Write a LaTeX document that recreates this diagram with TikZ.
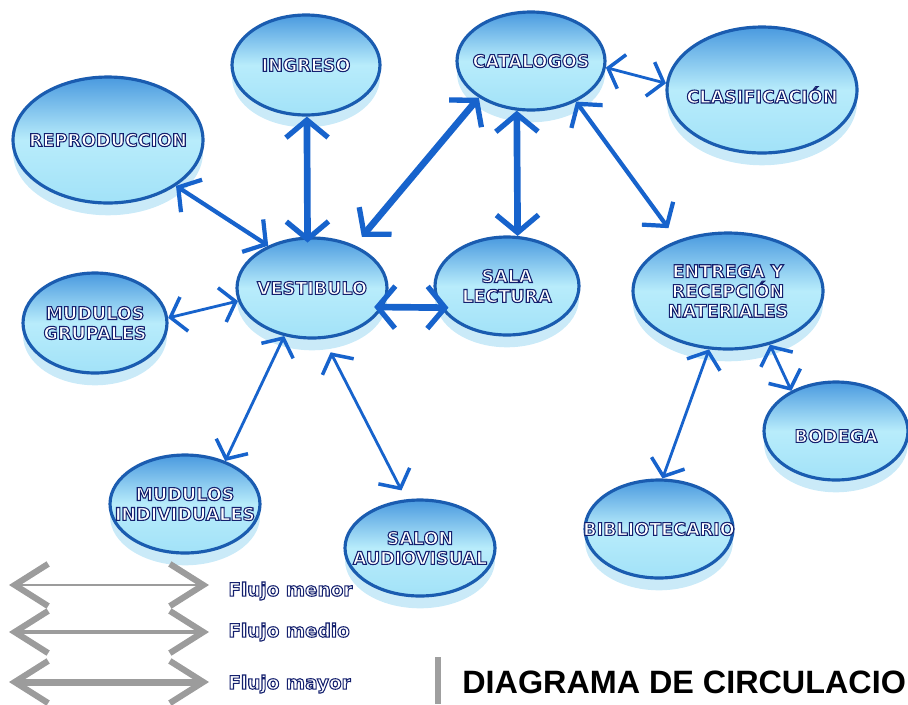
\documentclass[tikz,border=0pt]{standalone}
\usepackage{fontspec}
\setmainfont{DejaVu Sans}
\newfontfamily\titlefont{Liberation Sans}
\usetikzlibrary{arrows.meta,shapes.geometric,shadows}

\definecolor{rim}{HTML}{1A5CB0}
\definecolor{topc}{HTML}{4A9ADF}
\definecolor{midc}{HTML}{B8ECFB}
\definecolor{botc}{HTML}{A2E2F8}
\definecolor{glow}{HTML}{A6DCF4}
\definecolor{arrowc}{HTML}{1763CC}
\definecolor{navy}{HTML}{14206E}
\definecolor{silver}{HTML}{9C9C9C}

% white letters with a navy outline (fill + stroke text rendering)
\newcommand{\olab}[1]{\textcolor{white}{\special{pdf:literal direct 2 Tr 0.6 w 0.078 0.125 0.431 RG}#1\special{pdf:literal direct 0 Tr}}}

\tikzset{
  bubble/.style={ellipse, draw=rim, line width=1.8pt,
    top color=topc, bottom color=botc, middle color=midc,
    inner sep=0pt,
    drop shadow={shadow xshift=0pt, shadow yshift=-7pt, fill=glow, opacity=0.6}},
  lbl/.style={inner sep=0pt, align=center, font=\fontsize{10}{11.3}\selectfont\bfseries},
  menor/.style={draw=arrowc, line width=1.6pt,
    {Straight Barb[length=8pt,width=20pt,line width=2pt]}-{Straight Barb[length=8pt,width=20pt,line width=2pt]}},
  medio/.style={draw=arrowc, line width=2.4pt,
    {Straight Barb[length=9pt,width=22pt,line width=2.4pt]}-{Straight Barb[length=9pt,width=22pt,line width=2.4pt]}},
  mayor/.style={draw=arrowc, line width=3.8pt,
    {Straight Barb[length=10pt,width=24pt,line width=3pt]}-{Straight Barb[length=10pt,width=24pt,line width=3pt]}},
  legarrow/.style={draw=silver,
    {Straight Barb[length=19pt,width=24pt,line width=3.5pt]}-{Straight Barb[length=19pt,width=24pt,line width=3.5pt]}},
  leglabel/.style={anchor=west, inner sep=0pt, font=\fontsize{10.5}{12}\selectfont\bfseries}
}

\begin{document}
\begin{tikzpicture}[x=0.02cm, y=-0.02cm]
\useasboundingbox (0,0) rectangle (908,704);

% bubbles
\node[bubble, minimum width=3.8cm, minimum height=2.52cm,
  label={[lbl]center:\olab{REPRODUCCION}}] (repro) at (108,140) {};
\node[bubble, minimum width=2.96cm, minimum height=2.0cm,
  label={[lbl]center:\olab{INGRESO}}] (ingreso) at (306,65) {};
\node[bubble, minimum width=2.96cm, minimum height=1.96cm,
  label={[lbl]center:\olab{CATALOGOS}}] (cat) at (531,61) {};
\node[bubble, minimum width=3.8cm, minimum height=2.52cm,
  label={[lbl, yshift=-0.1cm]center:\olab{CLASIFICACIÓN}}] (clas) at (762,90) {};
\node[bubble, minimum width=3.0cm, minimum height=2.0cm,
  label={[lbl]center:\olab{VESTIBULO}}] (vest) at (312,288) {};
\node[bubble, minimum width=2.88cm, minimum height=1.96cm,
  label={[lbl]center:{\olab{SALA}\\\olab{LECTURA}}}] (sala) at (507,286) {};
\node[bubble, minimum width=3.8cm, minimum height=2.32cm,
  label={[lbl]center:{\olab{ENTREGA Y}\\\olab{RECEPCIÓN}\\\olab{NATERIALES}}}] (entrega) at (728,291) {};
\node[bubble, minimum width=2.88cm, minimum height=2.0cm,
  label={[lbl]center:{\olab{MUDULOS}\\\olab{GRUPALES}}}] (grup) at (95,323) {};
\node[bubble, minimum width=3.0cm, minimum height=1.96cm,
  label={[lbl]center:{\olab{MUDULOS}\\\olab{INDIVIDUALES}}}] (indiv) at (185,504) {};
\node[bubble, minimum width=3.0cm, minimum height=1.92cm,
  label={[lbl]center:{\olab{SALON}\\\olab{AUDIOVISUAL}}}] (audio) at (420,548) {};
\node[bubble, minimum width=2.96cm, minimum height=1.96cm,
  label={[lbl]center:\olab{BIBLIOTECARIO}}] (biblio) at (659,529) {};
\node[bubble, minimum width=2.88cm, minimum height=1.96cm,
  label={[lbl, yshift=-0.1cm]center:\olab{BODEGA}}] (bodega) at (836,431) {};

% connectors
\draw[medio] (repro.-34) -- (vest.136);
\draw[mayor, shorten >=-0.12cm] (ingreso.-89) -- (vest.95);
\draw[mayor, shorten >=0.22cm] (cat.-145) -- (vest.45);
\draw[mayor] (cat.-106) -- (sala.78);
\draw[menor] (cat.-5) -- (clas.176);
\draw[medio, shorten >=0.3cm] (cat.-42) -- (entrega.135);
\draw[menor] (grup.4) -- (vest.190);
\draw[mayor, shorten <=-0.18cm, shorten >=-0.16cm] (vest.-15) -- (sala.198);
\draw[menor] (vest.240) -- (indiv.47);
\draw[menor, shorten <=0.3cm, shorten >=0.2cm] (vest.-77) -- (audio.106);
\draw[menor] (entrega.-108) -- (biblio.86);
\draw[menor] (entrega.-52) -- (bodega.138);

% legend
\coordinate (l1a) at (9,585);  \coordinate (l1b) at (209,585);
\coordinate (l2a) at (9,632);  \coordinate (l2b) at (209,632);
\coordinate (l3a) at (9,682);  \coordinate (l3b) at (209,682);
\draw[legarrow, line width=1.6pt] (l1a) -- (l1b);
\draw[legarrow, line width=2.8pt] (l2a) -- (l2b);
\draw[legarrow, line width=4pt] (l3a) -- (l3b);
\node[leglabel] (t1) at (228,591) {\olab{Flujo menor}};
\node[leglabel] (t2) at (228,632) {\olab{Flujo medio}};
\node[leglabel] (t3) at (228,684) {\olab{Flujo mayor}};

% title
\fill[gray!75] (435,657) rectangle (441,704);
\node[anchor=base west, inner sep=0pt, font=\titlefont\fontsize{18.4}{20}\selectfont\bfseries] (title) at (462,693) {DIAGRAMA DE CIRCULACIO};
\end{tikzpicture}
\end{document}
